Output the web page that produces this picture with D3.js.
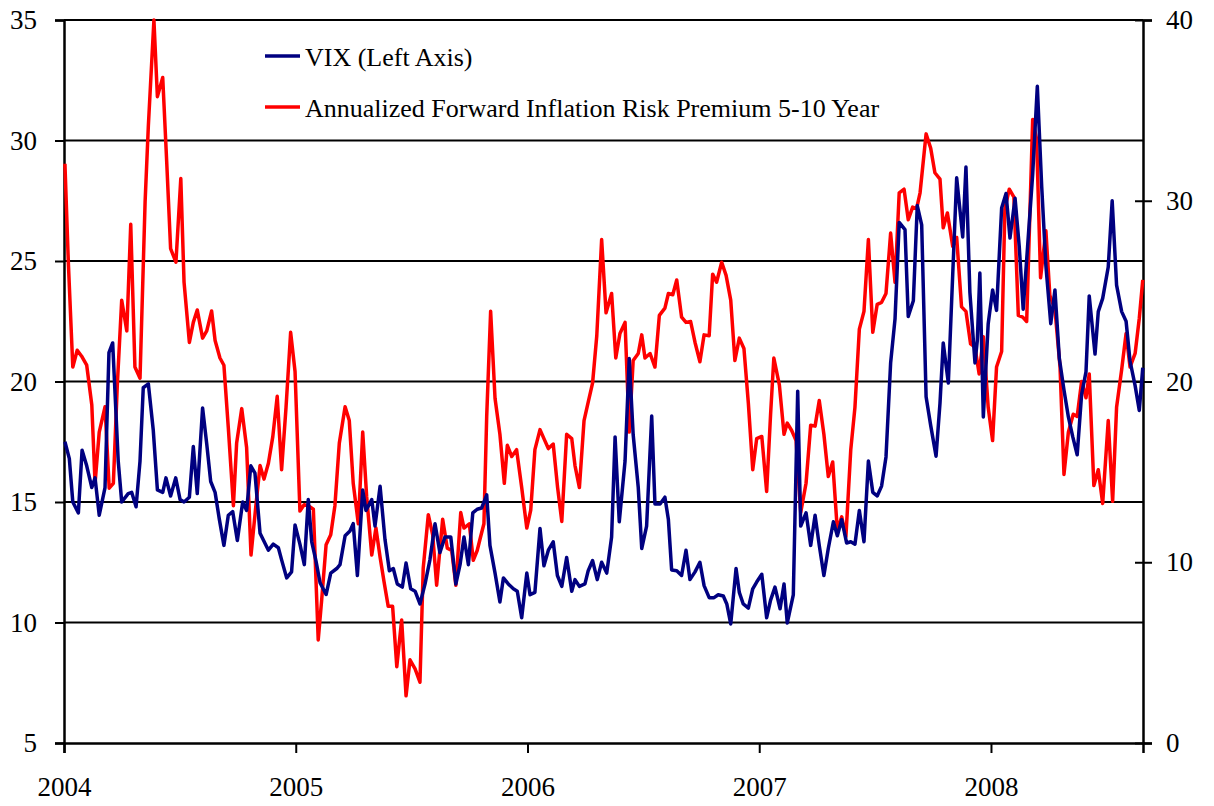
<!DOCTYPE html>
<html>
<head>
<meta charset="utf-8">
<script src="https://cdn.jsdelivr.net/npm/d3@7"></script>
<style>
  body { margin: 0; background: #fff; }
  text { font-family: "Liberation Serif", "Times New Roman", serif; }
</style>
</head>
<body>
<div id="chart"></div>
<script>

// x values are decimal years (2004.5 = mid 2004)
var vix = [
  [2004.004,17.5],[2004.023,16.8],[2004.038,15.0],[2004.062,14.55],[2004.078,17.15],[2004.098,16.5],
  [2004.120,15.6],[2004.134,16.0],[2004.152,14.45],[2004.177,15.6],[2004.194,21.2],[2004.210,21.6],
  [2004.234,16.7],[2004.249,15.0],[2004.277,15.35],[2004.292,15.4],[2004.311,14.8],[2004.328,16.7],
  [2004.342,19.74],[2004.364,19.9],[2004.385,18.0],[2004.403,15.5],[2004.426,15.4],[2004.440,16.0],
  [2004.460,15.25],[2004.482,16.0],[2004.501,15.1],[2004.518,15.0],[2004.541,15.2],[2004.558,17.3],
  [2004.575,15.35],[2004.598,18.9],[2004.616,17.4],[2004.633,15.85],[2004.652,15.4],[2004.670,14.3],
  [2004.690,13.2],[2004.709,14.45],[2004.728,14.6],[2004.748,13.4],[2004.771,15.0],[2004.788,14.65],
  [2004.806,16.5],[2004.824,16.2],[2004.846,13.7],[2004.882,13.0],[2004.903,13.25],[2004.925,13.1],
  [2004.939,12.6],[2004.961,11.85],[2004.982,12.1],[2004.997,14.05],[2005.018,13.25],[2005.037,12.4],
  [2005.054,15.1],[2005.069,13.35],[2005.087,12.57],[2005.105,11.65],[2005.131,11.16],[2005.151,12.05],
  [2005.177,12.24],[2005.191,12.4],[2005.213,13.6],[2005.234,13.8],[2005.248,14.1],[2005.266,11.95],
  [2005.289,15.5],[2005.303,14.65],[2005.328,15.1],[2005.342,14.0],[2005.364,15.65],[2005.385,13.45],
  [2005.404,12.15],[2005.421,12.24],[2005.438,11.6],[2005.460,11.47],[2005.476,12.47],[2005.496,11.4],
  [2005.515,11.3],[2005.536,10.77],[2005.558,11.6],[2005.579,12.6],[2005.601,14.1],[2005.622,12.9],
  [2005.644,13.55],[2005.669,13.55],[2005.691,11.6],[2005.709,12.4],[2005.726,13.55],[2005.745,12.4],
  [2005.764,14.55],[2005.783,14.7],[2005.802,14.75],[2005.824,15.3],[2005.838,13.2],[2005.860,12.05],
  [2005.881,10.85],[2005.896,11.85],[2005.917,11.6],[2005.939,11.4],[2005.956,11.3],[2005.975,10.2],
  [2005.997,12.05],[2006.011,11.15],[2006.032,11.25],[2006.054,13.9],[2006.071,12.35],[2006.090,13.0],
  [2006.111,13.35],[2006.129,11.95],[2006.148,11.5],[2006.169,12.7],[2006.191,11.3],[2006.205,11.78],
  [2006.224,11.5],[2006.248,11.6],[2006.262,12.15],[2006.281,12.57],[2006.301,11.78],[2006.320,12.5],
  [2006.342,12.05],[2006.363,13.55],[2006.378,17.7],[2006.396,14.18],[2006.421,16.7],[2006.439,20.95],
  [2006.456,17.8],[2006.478,15.6],[2006.493,13.07],[2006.514,14.0],[2006.536,18.57],[2006.550,14.92],
  [2006.572,14.92],[2006.593,15.2],[2006.608,14.27],[2006.622,12.18],[2006.644,12.15],[2006.665,11.95],
  [2006.684,13.0],[2006.701,11.78],[2006.723,12.1],[2006.744,12.5],[2006.762,11.53],[2006.784,11.03],
  [2006.805,11.03],[2006.823,11.15],[2006.845,11.1],[2006.860,10.77],[2006.877,9.94],[2006.900,12.24],
  [2006.914,11.25],[2006.931,10.77],[2006.953,10.6],[2006.972,11.4],[2006.989,11.68],[2007.011,12.0],
  [2007.032,10.2],[2007.049,10.93],[2007.068,11.47],[2007.090,10.57],[2007.107,11.6],[2007.121,9.98],
  [2007.147,11.15],[2007.166,19.6],[2007.179,14.0],[2007.202,14.55],[2007.222,13.2],[2007.241,14.45],
  [2007.259,13.2],[2007.279,11.95],[2007.298,13.07],[2007.320,14.18],[2007.337,13.6],[2007.356,14.27],
  [2007.377,13.3],[2007.395,13.35],[2007.413,13.25],[2007.432,14.65],[2007.452,13.35],[2007.471,16.7],
  [2007.490,15.4],[2007.509,15.25],[2007.528,15.66],[2007.547,16.87],[2007.567,20.77],[2007.586,22.6],
  [2007.604,26.6],[2007.629,26.3],[2007.643,22.7],[2007.665,23.35],[2007.682,27.3],[2007.701,26.5],
  [2007.720,19.37],[2007.740,18.17],[2007.763,16.9],[2007.780,19.1],[2007.794,21.6],[2007.816,19.94],
  [2007.835,24.46],[2007.852,28.45],[2007.878,26.0],[2007.892,28.9],[2007.909,23.7],[2007.931,20.77],
  [2007.941,21.7],[2007.952,24.5],[2007.967,18.53],[2007.988,22.4],[2008.007,23.8],[2008.024,22.95],
  [2008.046,27.2],[2008.065,27.8],[2008.082,25.95],[2008.104,27.6],[2008.122,25.6],[2008.139,23.0],
  [2008.158,25.6],[2008.180,28.6],[2008.200,32.25],[2008.219,28.07],[2008.237,24.8],[2008.258,22.4],
  [2008.276,23.8],[2008.295,20.95],[2008.315,19.65],[2008.334,18.53],[2008.353,17.7],[2008.372,16.96],
  [2008.391,19.46],[2008.410,20.4],[2008.424,23.55],[2008.449,21.14],[2008.463,22.9],[2008.482,23.45],
  [2008.506,24.75],[2008.523,27.5],[2008.542,24.0],[2008.564,22.9],[2008.583,22.5],[2008.600,20.85],
  [2008.622,19.83],[2008.640,18.8],[2008.655,20.57]
]

var irp = [
  [2004.004,32.05],[2004.019,26.5],[2004.038,20.8],[2004.057,21.73],[2004.076,21.4],[2004.098,20.9],
  [2004.120,18.7],[2004.134,14.37],[2004.152,17.2],[2004.177,18.6],[2004.195,14.1],[2004.213,14.37],
  [2004.230,19.8],[2004.249,24.5],[2004.271,22.8],[2004.288,28.7],[2004.306,20.8],[2004.328,20.18],
  [2004.350,29.95],[2004.364,34.15],[2004.388,40.0],[2004.403,35.76],[2004.426,36.82],[2004.443,32.2],
  [2004.460,27.35],[2004.483,26.6],[2004.504,31.23],[2004.518,25.5],[2004.541,22.16],[2004.558,23.27],
  [2004.575,23.96],[2004.598,22.4],[2004.616,22.8],[2004.637,23.9],[2004.652,22.27],[2004.673,21.3],
  [2004.690,20.9],[2004.709,17.45],[2004.731,13.13],[2004.745,16.6],[2004.767,18.5],[2004.788,16.35],
  [2004.807,10.4],[2004.828,13.13],[2004.846,15.35],[2004.863,14.6],[2004.882,15.48],[2004.901,16.95],
  [2004.920,19.18],[2004.939,15.12],[2004.958,18.56],[2004.978,22.72],[2004.997,20.55],[2005.018,12.83],
  [2005.036,13.18],[2005.054,13.13],[2005.076,12.93],[2005.097,5.7],[2005.112,7.93],[2005.131,10.97],
  [2005.151,11.52],[2005.169,13.13],[2005.188,16.59],[2005.213,18.6],[2005.231,17.84],[2005.248,14.37],
  [2005.270,12.13],[2005.289,17.2],[2005.306,13.63],[2005.328,10.4],[2005.346,11.89],[2005.364,10.28],
  [2005.381,8.92],[2005.399,7.56],[2005.418,7.56],[2005.436,4.22],[2005.457,6.81],[2005.476,2.61],
  [2005.493,4.6],[2005.515,4.1],[2005.536,3.36],[2005.550,9.66],[2005.572,12.63],[2005.591,11.52],
  [2005.608,8.73],[2005.634,12.38],[2005.654,10.78],[2005.673,10.65],[2005.691,8.73],[2005.712,12.75],
  [2005.726,11.89],[2005.749,12.13],[2005.766,10.11],[2005.783,10.65],[2005.795,11.27],[2005.812,12.13],
  [2005.824,18.07],[2005.841,23.88],[2005.860,19.06],[2005.881,17.08],[2005.900,14.37],[2005.913,16.47],
  [2005.932,15.85],[2005.953,16.23],[2005.975,14.13],[2005.997,11.89],[2006.014,12.88],[2006.032,16.23],
  [2006.054,17.34],[2006.071,16.84],[2006.090,16.29],[2006.111,16.54],[2006.130,14.13],[2006.148,12.26],
  [2006.169,17.08],[2006.191,16.84],[2006.205,15.35],[2006.224,14.13],[2006.244,17.84],[2006.262,18.86],
  [2006.281,19.93],[2006.299,22.53],[2006.320,27.85],[2006.339,23.8],[2006.363,24.87],[2006.381,21.3],
  [2006.399,22.66],[2006.421,23.27],[2006.439,17.2],[2006.456,21.16],[2006.478,21.55],[2006.493,22.58],
  [2006.507,21.3],[2006.529,21.55],[2006.550,20.8],[2006.569,23.66],[2006.593,24.06],[2006.608,24.87],
  [2006.627,24.8],[2006.644,25.62],[2006.665,23.56],[2006.684,23.27],[2006.704,23.32],[2006.723,22.16],
  [2006.744,21.09],[2006.762,22.58],[2006.784,22.53],[2006.799,25.94],[2006.816,25.49],[2006.838,26.6],
  [2006.857,25.87],[2006.877,24.5],[2006.895,21.16],[2006.914,22.4],[2006.934,21.83],[2006.953,18.81],
  [2006.972,15.12],[2006.989,16.84],[2007.011,16.96],[2007.032,13.92],[2007.049,18.19],[2007.063,21.3],
  [2007.087,19.8],[2007.107,17.08],[2007.121,17.7],[2007.140,17.29],[2007.159,16.73],[2007.179,12.75],
  [2007.202,14.37],[2007.222,17.58],[2007.241,17.53],[2007.259,18.95],[2007.279,17.08],[2007.298,14.74],
  [2007.317,15.55],[2007.337,11.77],[2007.356,12.51],[2007.374,11.41],[2007.395,16.23],[2007.413,18.57],
  [2007.432,22.9],[2007.452,23.88],[2007.471,27.85],[2007.490,22.72],[2007.509,24.27],[2007.528,24.38],
  [2007.547,24.87],[2007.567,28.21],[2007.586,25.49],[2007.604,30.44],[2007.625,30.64],[2007.643,28.95],
  [2007.662,29.65],[2007.679,29.57],[2007.694,30.44],[2007.720,33.7],[2007.740,32.9],[2007.758,31.55],
  [2007.780,31.2],[2007.794,28.5],[2007.812,29.32],[2007.835,27.47],[2007.852,27.97],[2007.873,24.13],
  [2007.892,23.88],[2007.912,22.08],[2007.931,21.9],[2007.949,20.42],[2007.967,22.48],[2007.988,18.57],
  [2008.007,16.73],[2008.024,20.8],[2008.046,21.66],[2008.060,29.57],[2008.079,30.64],[2008.099,30.2],
  [2008.118,23.66],[2008.137,23.56],[2008.154,23.32],[2008.180,34.5],[2008.197,33.4],[2008.214,25.74],
  [2008.237,28.34],[2008.254,24.76],[2008.276,24.0],[2008.298,20.8],[2008.315,14.86],[2008.334,17.2],
  [2008.355,18.19],[2008.372,18.07],[2008.391,20.0],[2008.410,19.1],[2008.424,20.42],[2008.444,14.24],
  [2008.463,15.12],[2008.482,13.25],[2008.506,17.84],[2008.525,13.37],[2008.542,18.57],[2008.564,20.66],
  [2008.583,22.66],[2008.600,20.8],[2008.622,21.55],[2008.640,23.5],[2008.655,25.62]
]

var years = [2004, 2005, 2006, 2007, 2008]
var leftTicks = [5, 10, 15, 20, 25, 30, 35]
var rightTicks = [0, 10, 20, 30, 40]
var legendNames = ["VIX (Left Axis)", "Annualized Forward Inflation Risk Premium 5-10 Year"]
var colors = ["#000080", "#ff0000"]

var width = 1214
var height = 806
var margin = {top: 20, right: 71, bottom: 63, left: 64}

var svg = d3.select("#chart")
  .append("svg")
    .attr("width", width)
    .attr("height", height)

var x = d3.scaleLinear()
  .domain([2004, 2008.656])
  .range([margin.left, width - margin.right])

var yLeft = d3.scaleLinear()
  .domain([5, 35])
  .range([height - margin.bottom, margin.top])

var yRight = d3.scaleLinear()
  .domain([0, 40])
  .range([height - margin.bottom, margin.top])

// horizontal gridlines
svg.append("g")
  .selectAll("line")
  .data(leftTicks.filter(d => d > 5))
  .enter()
  .append("line")
    .attr("x1", margin.left)
    .attr("x2", width - margin.right)
    .attr("y1", d => yLeft(d))
    .attr("y2", d => yLeft(d))
    .attr("stroke", "#000")
    .attr("stroke-width", 2)

// left axis
var leftAxis = svg.append("g")
  .attr("transform", "translate(" + margin.left + ",0)")
  .call(d3.axisLeft(yLeft).tickValues(leftTicks).tickSize(9).tickPadding(18))

// right axis, ticks cross the line
var rightAxis = svg.append("g")
  .attr("transform", "translate(" + (width - margin.right) + ",0)")
  .call(d3.axisRight(yRight).tickValues(rightTicks).tickSize(9).tickPadding(14))
rightAxis.selectAll(".tick line").attr("x1", -8)

// bottom axis
var bottomAxis = svg.append("g")
  .attr("transform", "translate(0," + (height - margin.bottom) + ")")
  .call(d3.axisBottom(x).tickValues(years).tickFormat(d3.format("d")).tickSize(10).tickPadding(24))

svg.selectAll(".domain").attr("stroke", "#000").attr("stroke-width", 2.5)
svg.selectAll(".tick line").attr("stroke", "#000").attr("stroke-width", 2)
svg.selectAll(".tick text")
  .style("font-family", '"Liberation Serif", "Times New Roman", serif')
  .style("font-size", "27px")
  .attr("fill", "#000")

// lines
var vixLine = d3.line()
  .x(d => x(d[0]))
  .y(d => yLeft(d[1]))

var irpLine = d3.line()
  .x(d => x(d[0]))
  .y(d => yRight(d[1]))

svg.append("path")
  .datum(irp)
  .attr("fill", "none")
  .attr("stroke", colors[1])
  .attr("stroke-width", 3.5)
  .attr("stroke-linejoin", "round")
  .attr("d", irpLine)

svg.append("path")
  .datum(vix)
  .attr("fill", "none")
  .attr("stroke", colors[0])
  .attr("stroke-width", 3.5)
  .attr("stroke-linejoin", "round")
  .attr("d", vixLine)

// legend
var legend = svg.append("g")
  .selectAll("g")
  .data(legendNames)
  .enter()
  .append("g")
    .attr("transform", (d, i) => "translate(265," + (56 + i * 51) + ")")

legend.append("line")
  .attr("x1", 0)
  .attr("x2", 35)
  .attr("stroke", (d, i) => colors[i])
  .attr("stroke-width", 3.5)

legend.append("text")
  .attr("x", 40)
  .attr("dy", "0.38em")
  .style("font-size", "26px")
  .attr("fill", "#000")
  .text(d => d)

</script>
</body>
</html>
